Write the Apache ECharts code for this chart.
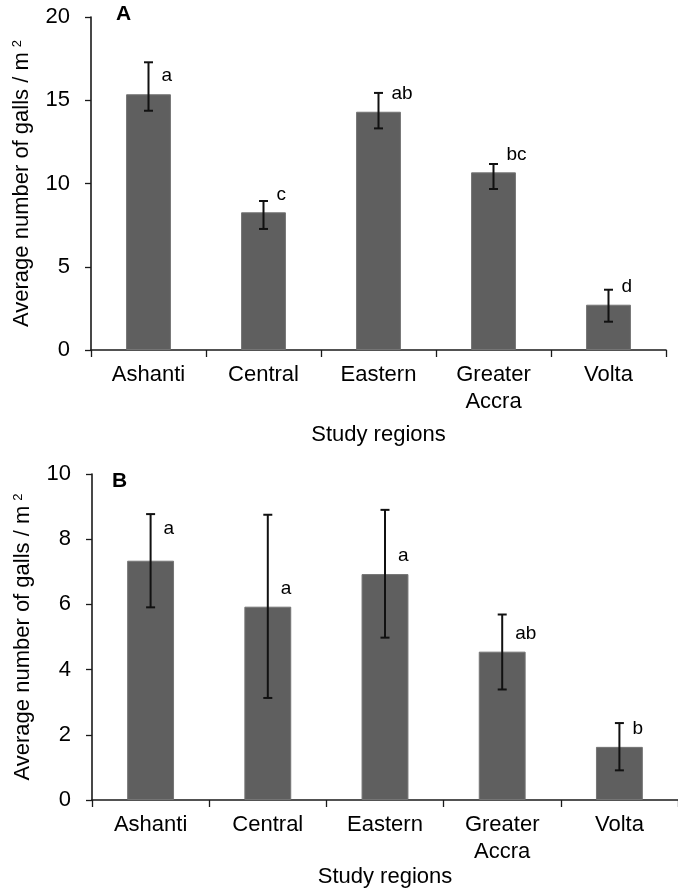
<!DOCTYPE html>
<html>
<head>
<meta charset="utf-8">
<script src="https://cdn.jsdelivr.net/npm/echarts@6/dist/echarts.min.js"></script>
<style>
html,body{margin:0;padding:0;background:#fff;}
#chart{width:678px;height:889px;}
</style>
</head>
<body>
<div id="chart"></div>
<script>
// ---- data ----
const regions = ['Ashanti', 'Central', 'Eastern', 'Greater\nAccra', 'Volta'];

const meanA = [15.36, 8.27, 14.31, 10.67, 2.72];
const lowA  = [14.37, 7.27, 13.31, 9.67, 1.70];
const highA = [17.28, 8.95, 15.44, 11.17, 3.62];
const lettersA = ['a', 'c', 'ab', 'bc', 'd'];
const yTicksA = [0, 5, 10, 15, 20];

const meanB = [7.34, 5.93, 6.93, 4.55, 1.63];
const lowB  = [5.91, 3.13, 4.98, 3.39, 0.91];
const highB = [8.77, 8.75, 8.90, 5.69, 2.36];
const lettersB = ['a', 'a', 'a', 'ab', 'b'];
const yTicksB = [0, 2, 4, 6, 8, 10];

const panelTitles = ['A', 'B'];
const xTitle = 'Study regions';
const yTitle = 'Average number of galls / m';

// ---- styling ----
const FONT = '"Liberation Sans", Arial, Helvetica, sans-serif';
const FS = 22;
const AX = '#1a1a1a';
const BAR = '#5f5f5f';

function yAxisFor(gridIndex, ticks) {
  return {
    type: 'value', gridIndex,
    min: ticks[0], max: ticks[ticks.length - 1], interval: ticks[1] - ticks[0],
    name: yTitle + '{sup|2}',
    nameLocation: 'middle', nameGap: 58, nameRotate: 90,
    nameTextStyle: {
      fontFamily: FONT, fontSize: FS, color: '#000',
      rich: { sup: { fontFamily: FONT, fontSize: 13, color: '#000', verticalAlign: 'top', padding: [0, 0, 8, 5] } }
    },
    splitLine: { show: false },
    axisLine: { show: true, lineStyle: { color: AX, width: 1.6 } },
    axisTick: { show: true, inside: false, length: 6, lineStyle: { color: AX, width: 1.3 } },
    axisLabel: { fontFamily: FONT, fontSize: FS, color: '#000', margin: 21 }
  };
}

function xAxisFor(gridIndex, gap) {
  return {
    type: 'category', gridIndex, data: regions,
    name: xTitle, nameLocation: 'middle', nameGap: gap,
    nameTextStyle: { fontFamily: FONT, fontSize: FS, color: '#000' },
    axisLine: { show: true, lineStyle: { color: AX, width: 1.6 } },
    axisTick: { show: true, length: 7, lineStyle: { color: AX, width: 1.3 } },
    axisLabel: { fontFamily: FONT, fontSize: FS, color: '#000', margin: 11, lineHeight: 27, interval: 0 }
  };
}

function errSeries(idx, mean, low, high, letters, nudge) {
  return {
    type: 'custom', xAxisIndex: idx, yAxisIndex: idx, z: 5,
    data: mean.map((m, i) => [i, m, low[i], high[i]]),
    renderItem: function (params, api) {
      const i = api.value(0);
      const top = api.coord([i, api.value(3)]);
      const bot = api.coord([i, api.value(2)]);
      const barTop = api.coord([i, api.value(1)]);
      const cap = 4.5;
      const dy = (nudge[params.dataIndex] !== undefined) ? nudge[params.dataIndex] : -18;
      const st = { stroke: '#111', lineWidth: 2 };
      return {
        type: 'group',
        children: [
          { type: 'line', shape: { x1: top[0], y1: top[1], x2: bot[0], y2: bot[1] }, style: st },
          { type: 'line', shape: { x1: top[0] - cap, y1: top[1], x2: top[0] + cap, y2: top[1] }, style: st },
          { type: 'line', shape: { x1: bot[0] - cap, y1: bot[1], x2: bot[0] + cap, y2: bot[1] }, style: st },
          { type: 'text', x: barTop[0] + 13, y: barTop[1] + dy,
            style: { text: letters[params.dataIndex], fontFamily: FONT, fontSize: 19, fill: '#000',
                     align: 'left', verticalAlign: 'middle' } }
        ]
      };
    }
  };
}

const chart = echarts.init(document.getElementById('chart'), null, { renderer: 'canvas' });
chart.setOption({
  animation: false,
  backgroundColor: '#fff',
  graphic: [
    { type: 'text', left: 116, top: 4, style: { text: panelTitles[0], fontFamily: FONT, fontSize: 21, fontWeight: 'bold', fill: '#000' } },
    { type: 'text', left: 112, top: 471, style: { text: panelTitles[1], fontFamily: FONT, fontSize: 21, fontWeight: 'bold', fill: '#000' } }
  ],
  grid: [
    { left: 91, top: 17, width: 575, height: 333 },
    { left: 92, top: 474, width: 590, height: 326 }
  ],
  xAxis: [xAxisFor(0, 74), xAxisFor(1, 55)],
  yAxis: [yAxisFor(0, yTicksA), yAxisFor(1, yTicksB)],
  series: [
    { type: 'bar', xAxisIndex: 0, yAxisIndex: 0, data: meanA, barWidth: '39%',
      itemStyle: { color: BAR, borderColor: '#747474', borderWidth: 1 } },
    { type: 'bar', xAxisIndex: 1, yAxisIndex: 1, data: meanB, barWidth: '40%',
      itemStyle: { color: BAR, borderColor: '#747474', borderWidth: 1 } },
    errSeries(0, meanA, lowA, highA, lettersA, {}),
    errSeries(1, meanB, lowB, highB, lettersB, { 0: -32 })
  ]
});
</script>
</body>
</html>
